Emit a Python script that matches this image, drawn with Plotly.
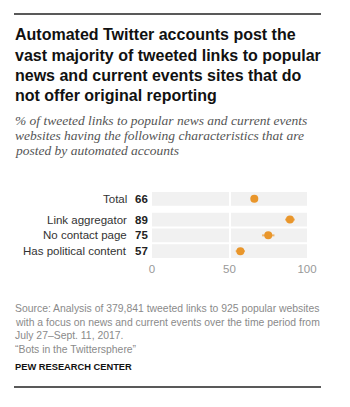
import plotly.graph_objects as go

categories = ["Total", "Link aggregator", "No contact page", "Has political content"]
values = [66, 89, 75, 57]
err_minus = [0, 3.2, 4, 3]
err_plus = [0, 3.2, 4, 3]
row_pos = [0, 1.3125, 2.3125, 3.3125]
tick_vals = [0, 50, 100]

title_lines = ["Automated Twitter accounts post the",
               "vast majority of tweeted links to popular",
               "news and current events sites that do",
               "not offer original reporting"]
subtitle_lines = ["% of tweeted links to popular news and current events",
                  "websites having the following characteristics that are",
                  "posted by automated accounts"]
source_lines = ["Source: Analysis of 379,841 tweeted links to 925 popular websites",
                "with a focus on news and current events over the time period from",
                "July 27\u2013Sept. 11, 2017.",
                "\u201cBots in the Twittersphere\u201d"]

W, H = 350, 407
L, R, T, B = 152, 307, 190, 260
ORANGE = "#E9962B"

fig = go.Figure()
fig.add_trace(go.Scatter(
    x=values, y=row_pos, mode="markers",
    marker=dict(color=ORANGE, size=8, line=dict(width=0)),
    error_x=dict(type="data", symmetric=False, array=err_plus, arrayminus=err_minus,
                 color="rgba(233,150,43,0.65)", thickness=2, width=0),
    hoverinfo="skip", showlegend=False))


def px_x(x):
    return (x - L) / (R - L)


def px_y(y):
    return (B - y) / (B - T)


shapes = []
for p in row_pos:
    shapes.append(dict(type="rect", xref="x", yref="y", x0=0, x1=100, y0=p - 0.44, y1=p + 0.44,
                       fillcolor="#F1F1F1", line=dict(width=0), layer="below"))
for yy in (14, 387):
    shapes.append(dict(type="line", xref="paper", yref="paper",
                       x0=px_x(14), x1=px_x(321), y0=px_y(yy), y1=px_y(yy),
                       line=dict(color="#222", width=1.5)))

ann = []
title_y = [34, 55, 75, 96]
for t, yy in zip(title_lines, title_y):
    ann.append(dict(text="<b>" + t + "</b>", xref="paper", yref="paper", x=px_x(13), y=px_y(yy),
                    xanchor="left", yanchor="middle", showarrow=False,
                    font=dict(family="Liberation Sans, Arial", size=16, color="#111")))
sub_y = [120, 135, 150]
for t, yy in zip(subtitle_lines, sub_y):
    ann.append(dict(text="<i>" + t + "</i>", xref="paper", yref="paper", x=px_x(13), y=px_y(yy),
                    xanchor="left", yanchor="middle", showarrow=False,
                    font=dict(family="Liberation Serif, Georgia, serif", size=13.5, color="#555")))
src_y = [308, 322, 335, 349]
for t, yy in zip(source_lines, src_y):
    ann.append(dict(text=t, xref="paper", yref="paper", x=px_x(13), y=px_y(yy),
                    xanchor="left", yanchor="middle", showarrow=False,
                    font=dict(family="Liberation Sans, Arial", size=10.4, color="#8A8A8A")))
ann.append(dict(text="<b>PEW RESEARCH CENTER</b>", xref="paper", yref="paper", x=px_x(13), y=px_y(367),
                xanchor="left", yanchor="middle", showarrow=False,
                font=dict(family="Liberation Sans, Arial", size=9.3, color="#111")))

for c, v, p in zip(categories, values, row_pos):
    ann.append(dict(text=c, xref="paper", yref="y", x=px_x(129), y=p,
                    xanchor="right", yanchor="middle", showarrow=False,
                    font=dict(family="Liberation Sans, Arial", size=11.5, color="#333")))
    ann.append(dict(text="<b>" + str(v) + "</b>", xref="paper", yref="y", x=px_x(133), y=p,
                    xanchor="left", yanchor="middle", showarrow=False,
                    font=dict(family="Liberation Sans, Arial", size=11.5, color="#222")))

fig.update_layout(
    width=W, height=H, margin=dict(l=L, r=W - R, t=T, b=H - B),
    paper_bgcolor="white", plot_bgcolor="white",
    shapes=shapes, annotations=ann,
    xaxis=dict(range=[0, 100], tickvals=tick_vals, showgrid=True, gridcolor="white", gridwidth=1.5,
               zeroline=False, showline=False, ticks="", fixedrange=True,
               tickfont=dict(family="Liberation Sans, Arial", size=11.5, color="#999")),
    yaxis=dict(range=[3.875, -0.5625], showgrid=False, zeroline=False, showticklabels=False,
               ticks="", fixedrange=True),
)
fig.write_html("out.html")
